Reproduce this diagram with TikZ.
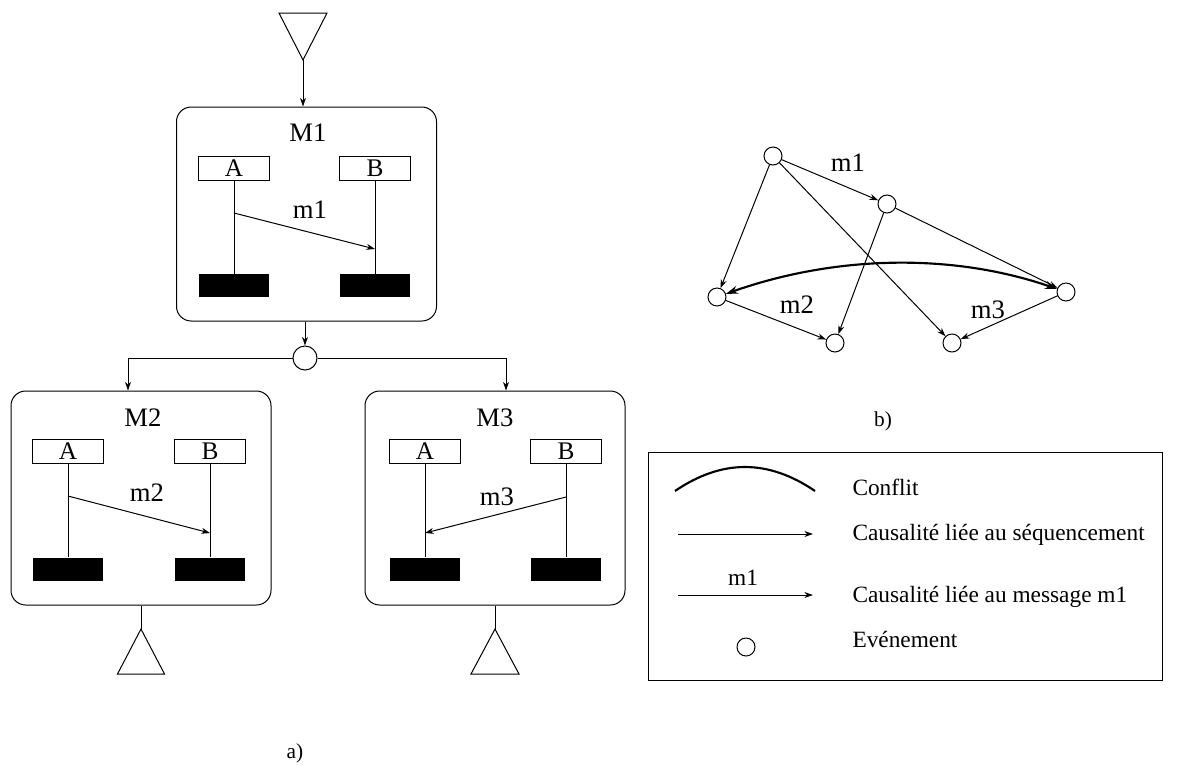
\documentclass[tikz,border=0pt]{standalone}
\usepackage{fontspec}
\setmainfont{Liberation Serif}
\usetikzlibrary{arrows.meta}

\tikzset{
  modbox/.style={draw, rounded corners=11pt, minimum width=195pt, minimum height=160.5pt, inner sep=0pt},
  headbox/.style={draw, minimum width=53pt, minimum height=18pt, inner sep=0pt, font=\fontsize{19}{19}\selectfont},
  barbox/.style={fill=black, minimum width=53pt, minimum height=17.25pt, inner sep=0pt},
  ev/.style={draw, circle, minimum size=13.5pt, inner sep=0pt},
  lbl/.style={font=\fontsize{20}{20}\selectfont, inner sep=0pt},
  arr/.style={-{Stealth[length=6.5pt,width=4.5pt]}},
  conflict/.style={line width=1.6pt, {Stealth[length=9pt,width=6pt]}-{Stealth[length=9pt,width=6pt]}},
  legtext/.style={anchor=base west, font=\fontsize{17.5}{17.5}\selectfont, inner sep=0pt},
  partlabel/.style={font=\fontsize{16}{16}\selectfont, inner sep=0pt}
}

\begin{document}
\begin{tikzpicture}[x=0.75pt, y=-0.75pt, line width=0.75pt]
\useasboundingbox (0,0) rectangle (1182,765);

% ---------- a) module hierarchy ----------
% entry triangle
\coordinate (topapex) at (303,60);
\draw (279,13) -- (327,13) -- (topapex) -- cycle;

% modules
\node[modbox] (M1) at (306.5,214) {};
\node[modbox] (M2) at (141,498) {};
\node[modbox] (M3) at (495,498) {};

\draw[arr] (topapex) -- (topapex |- M1.north);

% M1 contents
\node[lbl] (M1lab) at (308,133) {M1};
\node[headbox] (hA1) at (234,168) {A};
\node[headbox] (hB1) at (375,168) {B};
\node[barbox] (bA1) at (234,285.5) {};
\node[barbox] (bB1) at (375,285.5) {};
\draw (hA1.south) -- (bA1.north);
\draw (hB1.south) -- (bB1.north);
\coordinate (s1) at (234,213);
\coordinate (r1) at (375,249);
\draw[arr] (s1) -- (r1);
\node[lbl] (m1lab) at (310,210) {m1};

% M2 contents
\node[lbl] (M2lab) at (143,418) {M2};
\node[headbox] (hA2) at (68,451) {A};
\node[headbox] (hB2) at (210,451) {B};
\node[barbox] (bA2) at (68,569) {};
\node[barbox] (bB2) at (210,569) {};
\draw (hA2.south) -- (bA2.north);
\draw (hB2.south) -- (bB2.north);
\coordinate (s2) at (68,496);
\coordinate (r2) at (210,533);
\draw[arr] (s2) -- (r2);
\node[lbl] (m2lab) at (147,493) {m2};

% M3 contents
\node[lbl] (M3lab) at (495,418) {M3};
\node[headbox] (hA3) at (425,451) {A};
\node[headbox] (hB3) at (566,451) {B};
\node[barbox] (bA3) at (425,569) {};
\node[barbox] (bB3) at (566,569) {};
\draw (hA3.south) -- (bA3.north);
\draw (hB3.south) -- (bB3.north);
\coordinate (s3) at (566,497);
\coordinate (r3) at (425,533);
\draw[arr] (s3) -- (r3);
\node[lbl] (m3lab) at (497,497) {m3};

% choice junction
\node[ev, minimum size=18pt] (J) at (305,358) {};
\draw[arr] (J |- M1.south) -- (J.north);
\draw[arr] (J.west) -| ([xshift=-9.75pt]M2.north);
\draw[arr] (J.east) -| ([xshift=8.25pt]M3.north);

% exit triangles
\coordinate (apex2) at (141,629);
\draw (M2.south) -- (apex2);
\draw (apex2) -- (117.5,674) -- (164.5,674) -- cycle;
\coordinate (apex3) at (495,629);
\draw (M3.south) -- (apex3);
\draw (apex3) -- (471,674) -- (519,674) -- cycle;

\node[partlabel] (capa) at (295,753) {a)};

% ---------- b) event graph ----------
\node[ev] (e1) at (773,156) {};
\node[ev] (e2) at (887,204) {};
\node[ev] (e3) at (717,297) {};
\node[ev] (e4) at (1066,292) {};
\node[ev] (e5) at (835,343) {};
\node[ev] (e6) at (952,343) {};

\draw[arr] (e1) -- (e2);
\draw[arr] (e1) -- (e3);
\draw[arr] (e1) -- (e6);
\draw[arr] (e2) -- (e5);
\draw[arr] (e2) -- (e4);
\draw[arr] (e3) -- (e5);
\draw[arr] (e4) -- (e6);
\draw[conflict] (e3) .. controls (833,256) and (950,252) .. (e4);

\node[lbl] (gm1) at (848,163) {m1};
\node[lbl] (gm2) at (797,305) {m2};
\node[lbl] (gm3) at (988,310) {m3};

\node[partlabel] (capb) at (883,421) {b)};

% ---------- legend ----------
\node[draw, inner sep=0pt, minimum width=385.5pt, minimum height=171pt] (leg) at (905,566) {};

\draw[line width=1.6pt] (675,491) .. controls (722,459) and (768,459) .. (815,491);
\coordinate (la1) at (678,534);
\coordinate (lb1) at (813,534);
\draw[arr] (la1) -- (lb1);
\coordinate (la2) at (678,595);
\coordinate (lb2) at (813,595);
\draw[arr] (la2) -- (lb2);
\node[font=\fontsize{17.5}{17.5}\selectfont, inner sep=0pt] (lm1) at (743,578) {m1};
\node[ev] (lev) at (746,647) {};

\node[legtext] (t1) at (852,495) {Conflit};
\node[legtext] (t2) at (852,540) {Causalité liée au séquencement};
\node[legtext] (t3) at (852,602) {Causalité liée au message m1};
\node[legtext] (t4) at (852,647) {Evénement};
\end{tikzpicture}
\end{document}
